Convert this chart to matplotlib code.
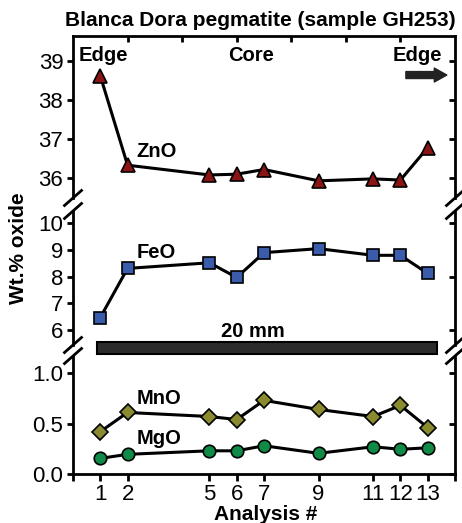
import matplotlib
matplotlib.use("Agg")
import matplotlib.pyplot as plt
from matplotlib.lines import Line2D
from matplotlib.patches import Rectangle

plt.rcParams['font.family'] = ['Liberation Sans', 'DejaVu Sans']

# analysis points along the traverse
analysis = [1, 2, 5, 6, 7, 9, 11, 12, 13]
zno = [38.62, 36.33, 36.08, 36.10, 36.22, 35.93, 35.98, 35.95, 36.78]
feo = [6.47, 8.31, 8.52, 7.97, 8.90, 9.05, 8.80, 8.80, 8.12]
mno = [0.42, 0.61, 0.57, 0.54, 0.73, 0.64, 0.57, 0.68, 0.46]
mgo = [0.155, 0.195, 0.23, 0.23, 0.28, 0.205, 0.27, 0.245, 0.26]

W, H = 462, 523
fig = plt.figure(figsize=(W / 100, H / 100), dpi=100)


def box(x0, y0, x1, y1):
    return [x0 / W, 1 - y1 / H, (x1 - x0) / W, (y1 - y0) / H]


ax_top = fig.add_axes(box(73, 36, 455, 198))
ax_mid = fig.add_axes(box(73, 211, 455, 345))
ax_bot = fig.add_axes(box(73, 356, 455, 474))

lw_sp = 2.0
tick_fs = 16
for ax in (ax_top, ax_mid, ax_bot):
    ax.set_xlim(0, 14)
    for s in ax.spines.values():
        s.set_linewidth(lw_sp)
    ax.tick_params(axis='y', which='both', left=True, right=False, direction='out',
                   length=4, width=lw_sp, labelsize=tick_fs, pad=3)
    ax.tick_params(axis='x', labelbottom=False, bottom=False)
    sec = ax.secondary_yaxis('right')
    sec.tick_params(direction='in', length=4, width=lw_sp, labelright=False)
    sec.spines['right'].set_visible(False)

ax_top.spines['bottom'].set_visible(False)
ax_mid.spines['top'].set_visible(False)
ax_mid.spines['bottom'].set_visible(False)
ax_bot.spines['top'].set_visible(False)

# top ticks on the top panel
ax_top.tick_params(axis='x', top=True, direction='in', length=4, width=lw_sp)
ax_top.set_xticks([2, 4, 6, 8, 10, 12])

ax_top.set_ylim(35.49, 39.64)
ax_top.set_yticks([36, 37, 38, 39])
ax_mid.set_ylim(5.44, 10.46)
ax_mid.set_yticks([6, 7, 8, 9, 10])
ax_bot.set_ylim(0, 1.17)
ax_bot.set_yticks([0.0, 0.5, 1.0])
ax_bot.set_yticklabels(['0.0', '0.5', '1.0'])

xt = [0] + analysis + [14]
ax_bot.set_xticks(xt)
ax_bot.set_xticklabels([''] + [str(a) for a in analysis] + [''])
ax_bot.tick_params(axis='x', bottom=True, labelbottom=True, direction='out',
                   length=5, width=lw_sp, labelsize=tick_fs, pad=2)

mk = dict(color='black', lw=2.2, markeredgecolor='black', markeredgewidth=1.2,
          clip_on=False, zorder=5)
ax_top.plot(analysis, zno, marker='^', markersize=10.5, markerfacecolor='#8b1414', **mk)
ax_mid.plot(analysis, feo, marker='s', markersize=8.5, markerfacecolor='#3b5cab', **mk)
ax_bot.plot(analysis, mno, marker='D', markersize=8, markerfacecolor='#8a8a30', **mk)
ax_bot.plot(analysis, mgo, marker='o', markersize=9, markerfacecolor='#0f8a47', **mk)

bold = dict(fontweight='bold', fontsize=14.5)
ax_top.text(2.34, 36.67, 'ZnO', ha='left', va='center', **bold)
ax_mid.text(2.34, 8.89, 'FeO', ha='left', va='center', **bold)
ax_bot.text(2.34, 0.75, 'MnO', ha='left', va='center', **bold)
ax_bot.text(2.34, 0.356, 'MgO', ha='left', va='center', **bold)

ax_top.text(1.10, 39.13, 'Edge', ha='center', va='center', **bold)
ax_top.text(6.51, 39.13, 'Core', ha='center', va='center', **bold)
ax_top.text(12.62, 39.13, 'Edge', ha='center', va='center', **bold)
ax_top.annotate('', xy=(13.7, 38.64), xytext=(12.2, 38.64),
                arrowprops=dict(arrowstyle='simple,head_length=0.9,head_width=1.0,tail_width=0.5',
                                color='#222222', shrinkA=0, shrinkB=0),
                annotation_clip=False)

# 20 mm scale bar
ax_mid.add_patch(Rectangle((0.88, -0.067), 12.47, 0.09, transform=ax_mid.get_xaxis_transform(),
                           facecolor='#2b2b2b', edgecolor='black', lw=1.5,
                           clip_on=False, zorder=6))
ax_mid.text(6.59, 5.94, '20 mm', ha='center', va='center', **bold)

# break marks on the axis
def slash(x, y):
    fig.add_artist(Line2D([(x - 8.5) / W, (x + 8.5) / W], [1 - (y + 7.5) / H, 1 - (y - 7.5) / H],
                          transform=fig.transFigure, color='black', lw=2.0))


for yb in (198, 211, 345, 356):
    slash(73, yb)
    slash(455, yb)

fig.text(260 / W, 1 - 20 / H, 'Blanca Dora pegmatite (sample GH253)', ha='center', va='center',
         fontweight='bold', fontsize=15)
fig.text(19 / W, 1 - 248 / H, 'Wt.% oxide', rotation=90, ha='center', va='center',
         fontweight='bold', fontsize=15)
fig.text(266 / W, 1 - 514 / H, 'Analysis #', ha='center', va='center',
         fontweight='bold', fontsize=15)

fig.savefig('out.png', dpi=100)
